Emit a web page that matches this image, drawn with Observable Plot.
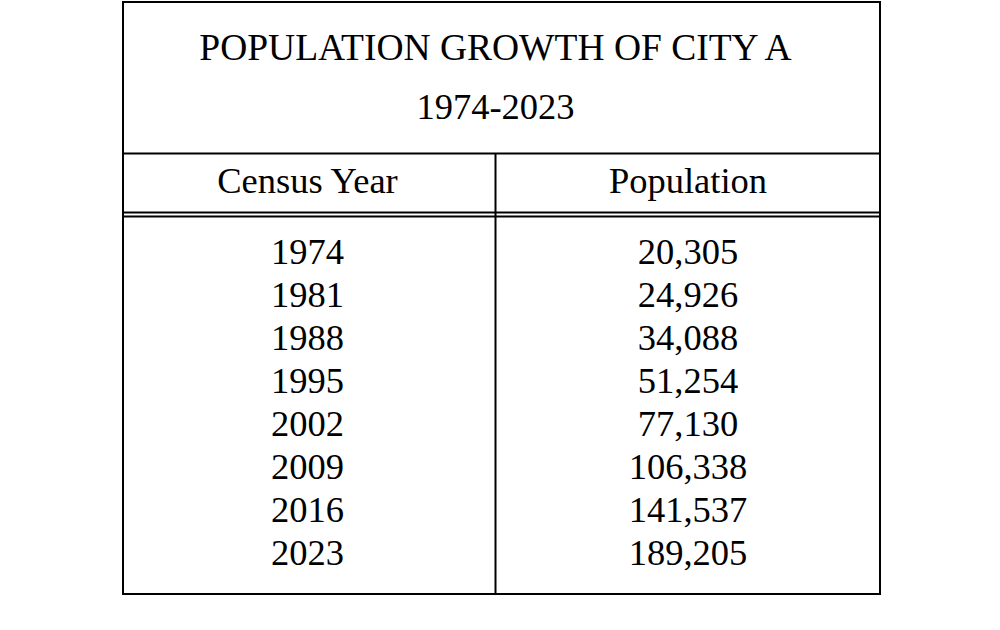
<!DOCTYPE html>
<html>
<head>
<meta charset="utf-8">
<script src="https://cdn.jsdelivr.net/npm/d3@7"></script>
<script src="https://cdn.jsdelivr.net/npm/@observablehq/plot@0.6"></script>
<style>
  html, body { margin: 0; padding: 0; background: #ffffff; }
  #chart { width: 1000px; height: 630px; }
</style>
</head>
<body>
<div id="chart"></div>
<script>
// ---- data ----
const title = "POPULATION GROWTH OF CITY A";
const subtitle = "1974-2023";
const headers = ["Census Year", "Population"];
const years = [1974, 1981, 1988, 1995, 2002, 2009, 2016, 2023];
const population = [20305, 24926, 34088, 51254, 77130, 106338, 141537, 189205];

// ---- layout (pixel-unit scales) ----
const L = 123, R = 880, TOP = 2, BOT = 594, DIV = 495, HLINE = 153;
const colX = [(L + DIV) / 2 - 2, (DIV + R) / 2];
const rowY0 = 252, rowStep = 43;
const fmt = d3.format(",");

const rows = years.map((yr, i) => ({year: String(yr), pop: fmt(population[i]), i}));

const chart = Plot.plot({
  width: 1000,
  height: 630,
  margin: 0,
  x: {domain: [0, 1000], range: [0, 1000], axis: null},
  y: {domain: [0, 630], range: [0, 630], axis: null},
  style: {fontFamily: "'Liberation Serif', 'Times New Roman', serif", background: "#ffffff", color: "#000"},
  marks: [
    Plot.rect([{x1: L, x2: R, y1: TOP, y2: BOT}], {x1: "x1", x2: "x2", y1: "y1", y2: "y2", fill: "none", stroke: "#000", strokeWidth: 2}),
    Plot.ruleY([HLINE, 212, 216], {x1: L, x2: R, stroke: "#000", strokeWidth: 2}),
    Plot.ruleX([DIV], {y1: HLINE, y2: BOT, stroke: "#000", strokeWidth: 2}),
    Plot.text([title], {x: 495, y: 47, text: d => d, fontSize: 37.5, fill: "#000", lineAnchor: "middle"}),
    Plot.text([subtitle], {x: 495, y: 107, text: d => d, fontSize: 36.5, fill: "#000", lineAnchor: "middle"}),
    Plot.text(headers, {x: (d, i) => colX[i], y: 181, text: d => d, fontSize: 36.5, fill: "#000", lineAnchor: "middle"}),
    Plot.text(rows, {x: colX[0], y: d => rowY0 + d.i * rowStep, text: "year", fontSize: 36.5, fill: "#000", lineAnchor: "middle"}),
    Plot.text(rows, {x: colX[1], y: d => rowY0 + d.i * rowStep, text: "pop", fontSize: 36.5, fill: "#000", lineAnchor: "middle"})
  ]
});
document.getElementById("chart").appendChild(chart);
</script>
</body>
</html>
